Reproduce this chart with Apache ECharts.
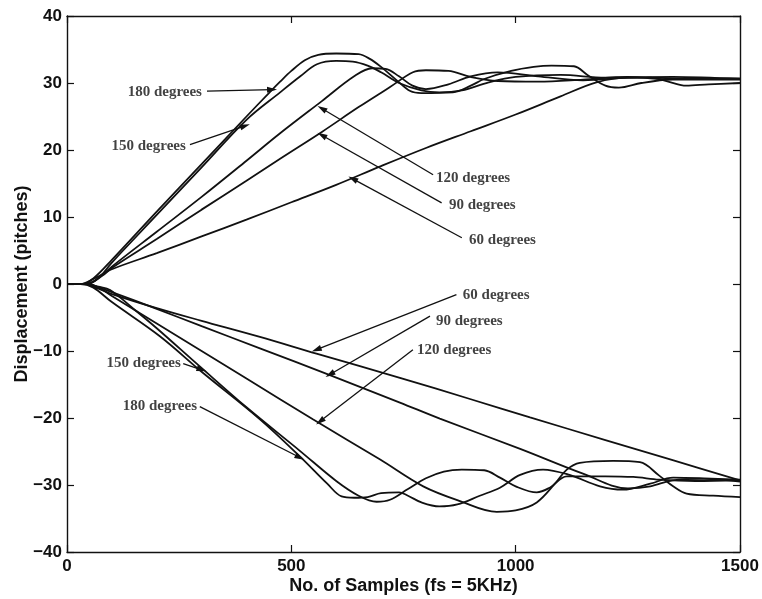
<!DOCTYPE html>
<html>
<head>
<meta charset="utf-8">
<script src="https://cdn.jsdelivr.net/npm/echarts@6/dist/echarts.min.js"></script>
<style>
  html, body { margin: 0; padding: 0; background: #fff; }
  #chart { width: 762px; height: 599px; }
</style>
</head>
<body>
<div id="chart"></div>
<script>
// Tick values for the two axes
var xTicks = [0, 500, 1000, 1500];
var yTicks = [-40, -30, -20, -10, 0, 10, 20, 30, 40];

// Displacement (pitches) against sample index, one array per launch angle.
// Upward-moving traces
var up180 = [[0,0],[35,0],[60,0.9],[100,3.6],[200,10.8],[300,17.9],[400,25.0],[450,28.5],[475,30.2],[500,31.8],[530,33.4],[560,34.2],[600,34.4],[650,34.3],[675,33.6],[700,32.4],[735,30.4],[765,28.8],[790,28.5],[860,28.6],[900,29.6],[930,30.6],[990,31.8],[1040,32.4],[1080,32.6],[1130,32.5],[1160,31.2],[1200,29.6],[1230,29.3],[1280,30.0],[1350,30.6],[1420,30.7],[1500,30.7]];
var up150 = [[0,0],[40,0],[70,0.9],[100,3.2],[200,10.3],[300,17.4],[400,24.5],[475,28.6],[520,31.0],[557,32.8],[600,33.3],[637,33.2],[670,32.6],[700,31.6],[740,30.0],[790,28.9],[830,28.6],[880,28.9],[940,30.1],[1000,30.9],[1100,31.2],[1200,30.8],[1300,30.8],[1340,30.2],[1380,29.6],[1430,29.8],[1500,30.0]];
var up120 = [[0,0],[45,0],[80,1.4],[100,2.6],[200,7.8],[300,13.0],[400,18.4],[475,22.5],[568,27.3],[640,31.0],[680,32.2],[710,32.1],[740,31.0],[770,29.6],[800,29.1],[850,29.8],[900,31.0],[960,31.6],[1050,31.0],[1150,30.4],[1250,30.8],[1350,30.9],[1500,30.6]];
var up90 = [[0,0],[45,0],[80,1.3],[100,2.4],[200,6.7],[300,11.1],[400,15.4],[475,18.7],[568,22.7],[650,26.4],[720,29.4],[771,31.6],[800,31.9],[850,31.8],[900,30.9],[960,30.3],[1050,30.2],[1150,30.5],[1250,30.9],[1350,30.5],[1500,30.5]];
var up60 = [[0,0],[30,0],[60,0.8],[100,2.2],[200,4.6],[300,7.1],[400,9.6],[500,12.2],[600,14.8],[700,17.6],[800,20.3],[900,22.8],[1000,25.3],[1100,28.0],[1180,30.1],[1250,30.8],[1300,30.8],[1400,30.6],[1500,30.6]];

// Downward-moving traces
var dn60 = [[0,0],[40,0],[70,-0.7],[100,-1.5],[200,-3.6],[300,-5.5],[430,-7.9],[556,-10.4],[742,-14.0],[900,-17.2],[1032,-19.9],[1200,-23.3],[1350,-26.3],[1500,-29.3]];
var dn90 = [[0,0],[45,0],[70,-0.5],[100,-1.2],[200,-3.7],[300,-6.3],[430,-9.6],[586,-13.6],[742,-17.7],[831,-20.1],[1010,-24.6],[1150,-28.3],[1250,-30.5],[1300,-30.2],[1350,-29.3],[1420,-29.1],[1500,-29.5]];
var dn120 = [[0,0],[45,0],[70,-0.5],[100,-1.8],[200,-5.9],[300,-10.0],[400,-14.1],[548,-20.2],[698,-26.2],[794,-30.2],[876,-32.4],[958,-34.0],[1000,-33.8],[1047,-32.6],[1090,-29.6],[1114,-27.7],[1143,-26.7],[1217,-26.4],[1277,-26.6],[1320,-28.6],[1351,-30.2],[1381,-31.3],[1440,-31.6],[1500,-31.8]];
var dn150 = [[0,0],[40,0],[70,-0.4],[96,-0.9],[150,-3.8],[200,-6.6],[296,-12.3],[400,-18.4],[519,-24.9],[600,-29.4],[650,-31.6],[690,-32.5],[720,-32.2],[760,-30.6],[800,-29.0],[840,-28.0],[880,-27.7],[930,-27.8],[965,-28.9],[1000,-30.2],[1047,-31.1],[1076,-30.4],[1114,-28.7],[1200,-28.7],[1262,-28.8],[1320,-29.2],[1400,-29.4],[1500,-29.3]];
var dn180 = [[0,0],[30,0],[58,-0.5],[100,-2.7],[207,-7.8],[300,-13.1],[430,-20.2],[520,-25.8],[580,-29.8],[612,-31.7],[640,-31.9],[670,-31.8],[700,-31.2],[740,-31.1],[760,-31.6],[790,-32.6],[830,-33.2],[870,-32.9],[920,-31.6],[965,-30.4],[1010,-28.5],[1061,-27.7],[1120,-28.5],[1188,-30.2],[1239,-30.7],[1300,-29.8],[1351,-28.9],[1420,-29.0],[1500,-29.2]];

// Callout labels: text, anchor point of the text, which side the text sits on,
// arrow tail and arrow head (all in data units)
var calloutText = ['180 degrees','150 degrees','120 degrees','90 degrees','60 degrees',
                   '60 degrees','90 degrees','120 degrees','150 degrees','180 degrees'];
var calloutAnchor = [[303,28.7],[267,20.6],[820,15.8],[849,11.8],[894,6.6],
                     [880,-1.6],[820,-5.6],[778,-9.8],[256,-11.8],[292,-18.3]];
var calloutSide = ['left','left','right','right','right','right','right','right','left','left'];
var arrowTail = [[312,28.8],[274,20.8],[816,16.3],[835,12.1],[880,6.9],
                 [868,-1.6],[809,-4.8],[771,-9.8],[259,-11.9],[296,-18.3]];
var arrowHead = [[457,29.0],[397,23.6],[568,26.2],[568,22.2],[637,15.7],
                 [556,-9.8],[586,-13.5],[564,-20.5],[300,-12.8],[519,-25.9]];

var traces = [up180, up150, up120, up90, up60, dn60, dn90, dn120, dn150, dn180];
var INK = '#111';

var series = traces.map(function (d) {
  return {
    type: 'line', data: d, showSymbol: false, smooth: 0.35,
    xAxisIndex: 0, yAxisIndex: 0, silent: true,
    lineStyle: { color: INK, width: 1.8 }
  };
});

// Arrows drawn as mark lines in data space
series.push({
  type: 'line', data: [], xAxisIndex: 0, yAxisIndex: 0, silent: true,
  markLine: {
    silent: true, animation: false,
    symbol: ['none', 'triangle'], symbolSize: [6, 10],
    label: { show: false },
    lineStyle: { color: INK, width: 1.3, type: 'solid' },
    itemStyle: { color: INK },
    emphasis: { disabled: true },
    data: arrowTail.map(function (t, i) {
      return [{ coord: t }, { coord: arrowHead[i] }];
    })
  }
});

// Callout text
series.push({
  type: 'scatter', xAxisIndex: 0, yAxisIndex: 0, silent: true, symbolSize: 0,
  data: calloutAnchor.map(function (p, i) {
    return {
      value: p, name: calloutText[i],
      label: { position: calloutSide[i] }
    };
  }),
  label: {
    show: true, distance: 1, formatter: '{b}',
    fontFamily: 'Liberation Serif', fontSize: 15, fontWeight: 'bold', color: INK
  }
});

var axisFont = { fontFamily: 'Liberation Sans', fontSize: 17, fontWeight: 'bold', color: INK };
function minusFmt(v) { return String(v).replace('-', '\u2212'); }

function frameAxis(pos) {
  return {
    type: 'value', position: pos,
    axisLine: { show: true, onZero: false, lineStyle: { color: INK, width: 1.4 } },
    axisTick: { show: true, inside: true, length: 7, lineStyle: { color: INK, width: 1.2 } },
    axisLabel: { show: false }, splitLine: { show: false }
  };
}

var xTop = frameAxis('top');
xTop.min = xTicks[0]; xTop.max = xTicks[xTicks.length - 1]; xTop.interval = 500;
var yRight = frameAxis('right');
yRight.min = yTicks[0]; yRight.max = yTicks[yTicks.length - 1]; yRight.interval = 10;

var option = {
  animation: false,
  backgroundColor: '#fff',
  grid: { left: 67, right: 22, top: 16, bottom: 47, containLabel: false, outerBoundsMode: 'none' },
  xAxis: [{
    type: 'value', min: xTicks[0], max: xTicks[xTicks.length - 1], interval: 500,
    position: 'bottom',
    name: 'No. of Samples (fs = 5KHz)', nameLocation: 'middle', nameGap: 25,
    nameMoveOverlap: false,
    nameTextStyle: { fontFamily: 'Liberation Sans', fontSize: 18, fontWeight: 'bold', color: INK },
    axisLine: { show: true, onZero: false, lineStyle: { color: INK, width: 1.4 } },
    axisTick: { show: true, inside: true, length: 7, lineStyle: { color: INK, width: 1.2 } },
    axisLabel: Object.assign({ margin: 6, formatter: minusFmt }, axisFont),
    splitLine: { show: false }
  }, xTop],
  yAxis: [{
    type: 'value', min: yTicks[0], max: yTicks[yTicks.length - 1], interval: 10,
    position: 'left',
    name: 'Displacement (pitches)', nameLocation: 'middle', nameGap: 36, nameRotate: 90,
    nameMoveOverlap: false,
    nameTextStyle: { fontFamily: 'Liberation Sans', fontSize: 18, fontWeight: 'bold', color: INK },
    axisLine: { show: true, onZero: false, lineStyle: { color: INK, width: 1.4 } },
    axisTick: { show: true, inside: true, length: 7, lineStyle: { color: INK, width: 1.2 } },
    axisLabel: Object.assign({ margin: 5, formatter: minusFmt }, axisFont),
    splitLine: { show: false }
  }, yRight],
  series: series
};

var chart = echarts.init(document.getElementById('chart'), null, { renderer: 'canvas' });
chart.setOption(option);
</script>
</body>
</html>
